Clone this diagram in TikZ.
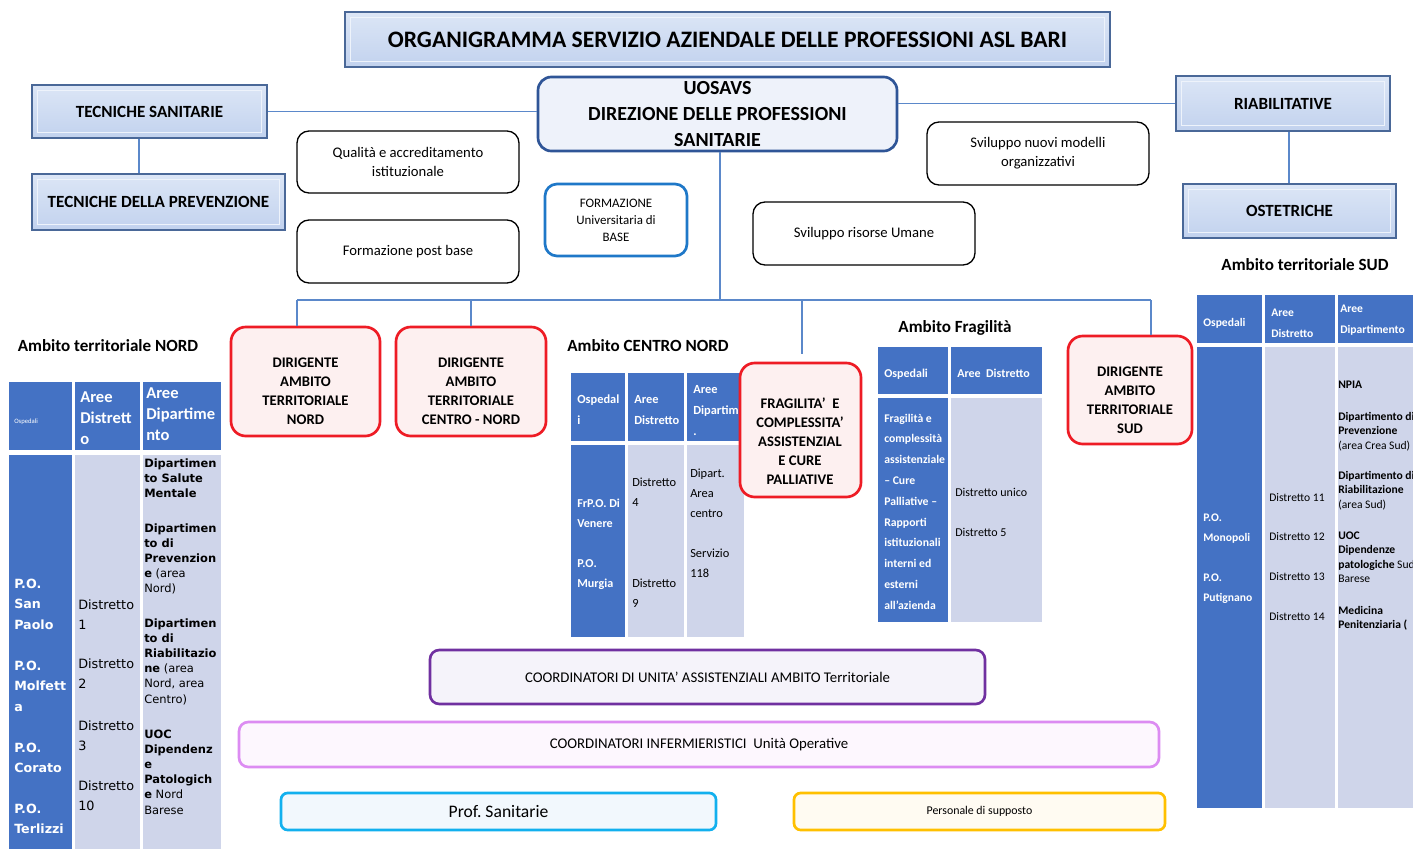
\documentclass[tikz,border=0pt]{standalone}
\usepackage{fontspec}
\setmainfont{Carlito}
\newfontfamily\dvs{DejaVu Sans}
\usetikzlibrary{calc}
\definecolor{bevB}{HTML}{4A6898}
\definecolor{bevT}{HTML}{DCE6F6}
\definecolor{bevBo}{HTML}{C2D2EE}
\definecolor{bevIn}{HTML}{EEF3FB}
\definecolor{uosB}{HTML}{2F5597}
\definecolor{uosF}{HTML}{EEF2FA}
\definecolor{connC}{HTML}{5B88CA}
\definecolor{redB}{HTML}{EE1C25}
\definecolor{redF}{HTML}{FDF0F0}
\definecolor{fubB}{HTML}{1F78C8}
\definecolor{tblue}{HTML}{4472C4}
\definecolor{tlight}{HTML}{CFD5EA}
\definecolor{cuaB}{HTML}{7030A0}
\definecolor{cuaF}{HTML}{F5F3FA}
\definecolor{ciuB}{HTML}{DC8CF2}
\definecolor{ciuF}{HTML}{FDF7FE}
\definecolor{psB}{HTML}{12B0EE}
\definecolor{psF}{HTML}{F2F8FD}
\definecolor{pdsB}{HTML}{FFC000}
\definecolor{pdsF}{HTML}{FFFBF2}
\newcommand\fsz[2]{\fontsize{#1pt}{#2pt}\selectfont}
\newcommand\tl[1]{\begin{tabular}[t]{@{}l@{}}#1\end{tabular}}
\newcommand\bx[7]{%
  \pgfmathsetmacro\bxcx{(#2+#4)/2}%
  \pgfmathsetmacro\bxcy{(#3+#5)/2}%
  \pgfmathsetmacro\bxw{(#4-#2)*0.75}%
  \pgfmathsetmacro\bxh{(#5-#3)*0.75}%
  \node[#6, minimum width=\bxw pt, minimum height=\bxh pt, inner sep=0pt] (#1) at (\bxcx,\bxcy) {#7};}
\newcommand\bevin[1]{\draw[bevIn,line width=0.8pt] ([shift={(4.5pt,-4.5pt)}]#1.north west) rectangle ([shift={(-4.5pt,4.5pt)}]#1.south east);}
\tikzset{
  bevel/.style={draw=bevB, line width=0.9pt, top color=bevT, bottom color=bevBo, align=center},
  wbox/.style={draw=black, line width=1pt, rounded corners=9pt, fill=white, align=center},
  redbox/.style={draw=redB, line width=2pt, rounded corners=11pt, fill=redF},
  redtxt/.style={inner sep=0pt, align=center, font=\bfseries\fsz{11}{14.25}},
  conn/.style={draw=connC, line width=0.9pt},
  tw/.style={text=white, inner sep=0pt, anchor=base west},
  tb/.style={text=black, inner sep=0pt, anchor=base west},
  lbl/.style={inner sep=0pt, font=\bfseries\fsz{12.8}{15}}
}
\begin{document}
\begin{tikzpicture}[x=0.75pt,y=-0.75pt]
\useasboundingbox (0,0) rectangle (1413,849);
\clip (0,0) rectangle (1413,849);
\fill[white] (0,0) rectangle (1413,849);

% ---- top boxes
\bx{title}{345}{12}{1110}{67}{bevel,font=\bfseries\fsz{17.7}{21}}{ORGANIGRAMMA SERVIZIO AZIENDALE DELLE PROFESSIONI ASL BARI}
\bevin{title}
\bx{ts}{32}{85}{267}{138}{bevel,font=\bfseries\fsz{12.8}{15}}{TECNICHE SANITARIE}
\bevin{ts}
\bx{tdp}{32}{174}{285}{230}{bevel,font=\bfseries\fsz{12.8}{15}}{TECNICHE DELLA PREVENZIONE}
\bevin{tdp}
\bx{riab}{1176}{76}{1390}{131}{bevel,font=\bfseries\fsz{12.8}{15}}{RIABILITATIVE}
\bevin{riab}
\bx{ost}{1183}{184}{1396}{238}{bevel,font=\bfseries\fsz{12.8}{15}}{OSTETRICHE}
\bevin{ost}
\bx{uos}{538}{77}{897}{151}{draw=uosB,line width=2pt,fill=uosF,rounded corners=10pt,align=center,font=\bfseries\fsz{15}{19.5}}{UOSAVS\\DIREZIONE DELLE PROFESSIONI\\SANITARIE}

\bx{qual}{297}{131}{519}{193}{wbox,font=\fsz{11}{14.25}}{Qualità e accreditamento\\istituzionale}
\bx{fpb}{297}{220}{519}{283}{wbox,font=\fsz{11}{14}}{Formazione post base}
\bx{fub}{545}{184}{687}{256}{draw=fubB,line width=2pt,fill=white,rounded corners=9pt,align=center,font=\fsz{9.7}{12.75}}{FORMAZIONE\\Universitaria di\\BASE}
\bx{snm}{927}{122}{1149}{185}{wbox,font=\fsz{11}{14.25}}{Sviluppo nuovi modelli\\organizzativi}
\bx{sru}{753}{202}{975}{265}{wbox,font=\fsz{11}{14}}{Sviluppo risorse Umane}

% ---- labels
\node[lbl] (lblN) at (108,346) {Ambito territoriale NORD};
\node[lbl] (lblCN) at (648,346) {Ambito CENTRO NORD};
\node[lbl] (lblF) at (955,328) {Ambito Fragilità};
\node[lbl] (lblS) at (1305,265) {Ambito territoriale SUD};

% ---- table NORD
\fill[tblue] (9,382) rectangle (72,450);
\fill[tblue] (75,382) rectangle (140,450);
\fill[tblue] (143,382) rectangle (221,450);
\fill[tblue] (9,455) rectangle (72,860);
\fill[tlight] (75,455) rectangle (140,860);
\fill[tlight] (143,455) rectangle (221,860);
\node[tw,font=\fsz{5}{6}] (nh1) at (14,423) {Ospedali};
\node[tw,font=\bfseries\fsz{12.4}{15.75}] (nh2) at (80,402) {\tl{Aree\\Distrett\\o}};
\node[tw,font=\bfseries\fsz{12.4}{15.75}] (nh3) at (146,398) {\tl{Aree\\Dipartime\\nto}};
\node[tw,font=\dvs\bfseries\fsz{9.5}{15.6}] (n1a) at (14,588) {\tl{P.O.\\San\\Paolo}};
\node[tw,font=\dvs\bfseries\fsz{9.5}{15.6}] (n1b) at (14,670) {\tl{P.O.\\Molfett\\a}};
\node[tw,font=\dvs\bfseries\fsz{9.5}{15.6}] (n1c) at (14,752) {\tl{P.O.\\Corato}};
\node[tw,font=\dvs\bfseries\fsz{9.5}{15.6}] (n1d) at (14,813) {\tl{P.O.\\Terlizzi}};
\node[tb,font=\dvs\fsz{9.6}{15.6}] (n2a) at (78,609) {\tl{Distretto\\1}};
\node[tb,font=\dvs\fsz{9.6}{15.6}] (n2b) at (78,668) {\tl{Distretto\\2}};
\node[tb,font=\dvs\fsz{9.6}{15.6}] (n2c) at (78,730) {\tl{Distretto\\3}};
\node[tb,font=\dvs\fsz{9.6}{15.6}] (n2d) at (78,790) {\tl{Distretto\\10}};
\node[tb,font=\dvs\fsz{8.6}{11.4}] (n3a) at (144,467) {\tl{\textbf{Dipartimen}\\\textbf{to Salute}\\\textbf{Mentale}}};
\node[tb,font=\dvs\fsz{8.6}{11.4}] (n3b) at (144,532) {\tl{\textbf{Dipartimen}\\\textbf{to di}\\\textbf{Prevenzion}\\\textbf{e} (area\\Nord)}};
\node[tb,font=\dvs\fsz{8.6}{11.4}] (n3c) at (144,627) {\tl{\textbf{Dipartimen}\\\textbf{to di}\\\textbf{Riabilitazio}\\\textbf{ne} (area\\Nord, area\\Centro)}};
\node[tb,font=\dvs\fsz{8.6}{11.4}] (n3d) at (144,738) {\tl{\textbf{UOC}\\\textbf{Dipendenz}\\\textbf{e}\\\textbf{Patologich}\\\textbf{e} Nord\\Barese}};

% ---- table CENTRO NORD
\fill[tblue] (571,373) rectangle (625,441);
\fill[tblue] (628,373) rectangle (684,441);
\fill[tblue] (687,373) rectangle (744,441);
\fill[tblue] (571,445) rectangle (625,637);
\fill[tlight] (628,445) rectangle (684,637);
\fill[tlight] (687,445) rectangle (744,637);
\node[tw,font=\bfseries\fsz{9.3}{15.75}] (ch1) at (577,403) {\tl{Ospedal\\i}};
\node[tw,font=\bfseries\fsz{9.3}{15.75}] (ch2) at (634,403) {\tl{Aree\\Distretto}};
\node[tw,font=\bfseries\fsz{9.3}{15.75}] (ch3) at (693,393) {\tl{Aree\\Dipartim\\.}};
\node[tw,font=\bfseries\fsz{9.1}{15}] (cb1) at (577,507) {\tl{FrP.O. Di\\Venere}};
\node[tw,font=\bfseries\fsz{9.1}{15}] (cb1b) at (577,567) {\tl{P.O.\\Murgia}};
\node[tb,font=\fsz{9.3}{15.5}] (cb2) at (632,486) {\tl{Distretto\\4}};
\node[tb,font=\fsz{9.3}{15.5}] (cb2b) at (632,587) {\tl{Distretto\\9}};
\node[tb,font=\fsz{9.3}{15.3}] (cb3) at (690,477) {\tl{Dipart.\\Area\\centro}};
\node[tb,font=\fsz{9.3}{15.3}] (cb3b) at (690,557) {\tl{Servizio\\118}};

% ---- table FRAGILITA
\fill[tblue] (878,347) rectangle (948,394);
\fill[tblue] (951,347) rectangle (1042,394);
\fill[tblue] (878,398) rectangle (948,622);
\fill[tlight] (951,398) rectangle (1042,622);
\node[tw,font=\bfseries\fsz{9}{12}] (fh1) at (884,377) {Ospedali};
\node[tw,font=\bfseries\fsz{9}{12}] (fh2) at (957,377) {Aree\ \ Distretto};
\node[tw,font=\bfseries\fsz{8.8}{15.6}] (fb1) at (884,422) {\tl{Fragilità e\\complessità\\assistenziale\\– Cure\\Palliative –\\Rapporti\\istituzionali\\interni ed\\esterni\\all’azienda}};
\node[tb,font=\fsz{9}{30}] (fb2) at (955,496) {\tl{Distretto unico\\Distretto 5}};

% ---- table SUD
\fill[tblue] (1197,295) rectangle (1262,343);
\fill[tblue] (1265,295) rectangle (1335,343);
\fill[tblue] (1338,295) rectangle (1420,343);
\fill[tblue] (1197,347) rectangle (1262,808);
\fill[tlight] (1265,347) rectangle (1335,808);
\fill[tlight] (1338,347) rectangle (1420,808);
\node[tw,font=\bfseries\fsz{8.7}{15.75}] (sh1) at (1203,326) {Ospedali};
\node[tw,font=\bfseries\fsz{8.7}{15.75}] (sh2) at (1271,316) {\tl{Aree\\Distretto}};
\node[tw,font=\bfseries\fsz{8.7}{15.75}] (sh3) at (1340,312) {\tl{Aree\\Dipartimento}};
\node[tw,font=\bfseries\fsz{8.7}{15}] (sb1) at (1203,521) {\tl{P.O.\\Monopoli}};
\node[tw,font=\bfseries\fsz{8.7}{15}] (sb1b) at (1203,581) {\tl{P.O.\\Putignano}};
\node[tb,font=\fsz{8.7}{29.8}] (sb2) at (1269,501) {\tl{Distretto 11\\Distretto 12\\Distretto 13\\Distretto 14}};
\node[tb,font=\fsz{8.7}{10.9}] (s3a) at (1338,388) {\textbf{NPIA}};
\node[tb,font=\fsz{8.7}{10.9}] (s3b) at (1338,420) {\tl{\textbf{Dipartimento di}\\\textbf{Prevenzione}\\(area Crea Sud)}};
\node[tb,font=\fsz{8.7}{10.9}] (s3c) at (1338,479) {\tl{\textbf{Dipartimento di}\\\textbf{Riabilitazione}\\(area Sud)}};
\node[tb,font=\fsz{8.7}{10.9}] (s3d) at (1338,539) {\tl{\textbf{UOC}\\\textbf{Dipendenze}\\\textbf{patologiche} Sud\\Barese}};
\node[tb,font=\fsz{8.7}{10.9}] (s3e) at (1338,614) {\tl{\textbf{Medicina}\\\textbf{Penitenziaria (}}};

% ---- red boxes
\bx{dn}{231}{327}{380}{436}{redbox}{}
\node[redtxt] (dnt) at (305.5,391.5) {DIRIGENTE\\AMBITO\\TERRITORIALE\\NORD};
\bx{dcn}{396}{327}{546}{436}{redbox}{}
\node[redtxt] (dcnt) at (471,391.5) {DIRIGENTE\\AMBITO\\TERRITORIALE\\CENTRO - NORD};
\bx{frag}{740}{363}{861}{497}{redbox}{}
\node[redtxt] (fragt) at (800,441) {FRAGILITA’\ \ E\\COMPLESSITA’\\ASSISTENZIAL\\E CURE\\PALLIATIVE};
\bx{ds}{1068}{336}{1192}{444}{redbox}{}
\node[redtxt] (dst) at (1130,400.5) {DIRIGENTE\\AMBITO\\TERRITORIALE\\SUD};

% ---- bottom boxes
\bx{cua}{430}{650}{985}{704}{draw=cuaB,line width=2pt,fill=cuaF,rounded corners=7pt,font=\fsz{11.1}{13}}{COORDINATORI DI UNITA’ ASSISTENZIALI AMBITO Territoriale}
\bx{ciu}{239}{722}{1159}{767}{draw=ciuB,line width=2pt,fill=ciuF,rounded corners=7pt,font=\fsz{11.1}{13}}{COORDINATORI INFERMIERISTICI\ \ Unità Operative}
\bx{ps}{281}{793}{716}{830}{draw=psB,line width=2pt,fill=psF,rounded corners=5pt,font=\fsz{13.2}{15}}{Prof.\ Sanitarie}
\bx{pds}{794}{793}{1165}{830}{draw=pdsB,line width=2pt,fill=pdsF,rounded corners=5pt,font=\fsz{8.9}{10}}{Personale di supposto}

% ---- connectors
\coordinate (hL) at (297,300);
\coordinate (hM) at (471,300);
\coordinate (hub) at (720,300);
\coordinate (hF) at (802,300);
\coordinate (hR) at (1151,300);
\coordinate (fragEnd) at (802,354);
\draw[conn] (ts.east) -- (ts.east -| uos.west);
\draw[conn] (uos.east |- riab.west) -- (riab.west);
\draw[conn] (139,0 |- ts.south) -- (139,0 |- tdp.north);
\draw[conn] (1289,0 |- riab.south) -- (1289,0 |- ost.north);
\draw[conn] (720,0 |- uos.south) -- (hub);
\draw[conn] (hL) -- (hR);
\draw[conn] (hL) -- (hL |- dn.north);
\draw[conn] (hM) -- (dcn.north);
\draw[conn] (hF) -- (fragEnd);
\draw[conn] (hR) -- (hR |- ds.north);
\end{tikzpicture}
\end{document}
